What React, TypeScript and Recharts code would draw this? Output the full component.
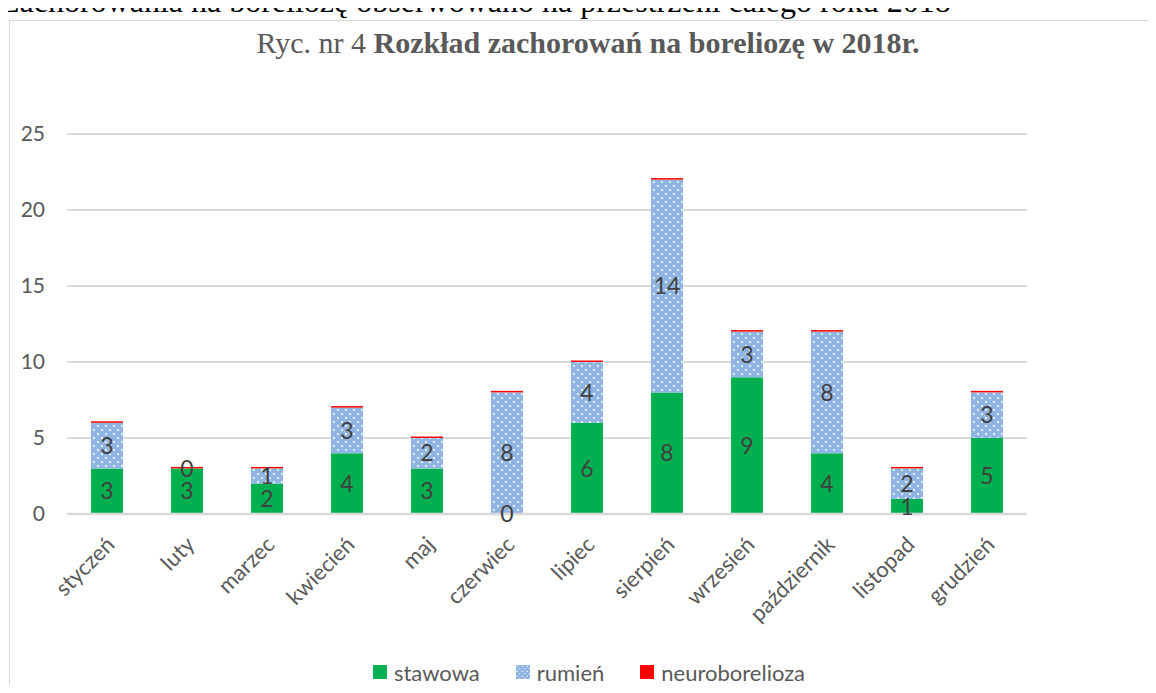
import React from 'react'
import { BarChart, Bar, XAxis, YAxis, CartesianGrid, Legend, LabelList } from 'recharts'

const months = ['styczeń', 'luty', 'marzec', 'kwiecień', 'maj', 'czerwiec', 'lipiec', 'sierpień', 'wrzesień', 'październik', 'listopad', 'grudzień']
const stawowa = [3, 3, 2, 4, 3, 0, 6, 8, 9, 4, 1, 5]
const rumien = [3, 0, 1, 3, 2, 8, 4, 14, 3, 8, 2, 3]
const neuroborelioza = [0, 0, 0, 0, 0, 0, 0, 0, 0, 0, 0, 0]
const yTicks = [0, 5, 10, 15, 20, 25]

const data = months.map((m, i) => ({
  name: m,
  stawowa: stawowa[i],
  rumien: rumien[i],
  neuroborelioza: neuroborelioza[i],
}))

const FONT = 'Lato, "Open Sans", sans-serif'
const TEXT = '#595959'
const SERIF = '"Liberation Serif", "Times New Roman", serif'

// obrócone etykiety miesięcy
const MonthTick = (props: any) => {
  const { x, y, payload } = props
  return (
    <g transform={`translate(${x + 9},${y + 24})`}>
      <text
        textAnchor="end"
        transform="rotate(-45)"
        fontFamily={FONT}
        fontSize={22}
        fill={TEXT}
      >
        {payload.value}
      </text>
    </g>
  )
}

const legendItems = [
  { label: 'stawowa', fill: '#00B050', dots: false },
  { label: 'rumień', fill: '#8DB4E2', dots: true },
  { label: 'neuroborelioza', fill: '#FF0000', dots: false },
]

const LegendContent = () => (
  <div style={{ display: 'flex', justifyContent: 'center', alignItems: 'center', height: 30, paddingLeft: 22, fontFamily: FONT, fontSize: 22, color: TEXT }}>
    {legendItems.map((it) => (
      <div key={it.label} style={{ display: 'flex', alignItems: 'center', margin: '0 18px' }}>
        <svg width={14} height={14} style={{ marginRight: 7 }}>
          <defs>
            <pattern id="dotsLegend" width={5} height={5} patternUnits="userSpaceOnUse">
              <circle cx={1.2} cy={1.2} r={0.8} fill="#fff" opacity={0.8} />
              <circle cx={3.7} cy={3.7} r={0.8} fill="#fff" opacity={0.8} />
            </pattern>
          </defs>
          <rect width={14} height={14} fill={it.fill} />
          {it.dots && <rect width={14} height={14} fill="url(#dotsLegend)" />}
        </svg>
        <span>{it.label}</span>
      </div>
    ))}
  </div>
)

const labelStyle = { fontFamily: FONT, fontSize: 23, fill: '#404040' }

export default function App() {
  return (
    <div style={{ position: 'relative', width: 1156, height: 693, margin: -8, overflow: 'hidden', background: '#fff' }}>
      <div style={{ position: 'absolute', left: 9, top: 20, width: 1170, height: 700, border: '1.5px solid #d9d9d9', boxSizing: 'border-box' }} />
      <div
        style={{
          position: 'absolute',
          left: 0,
          top: -15,
          fontFamily: SERIF,
          fontSize: 32,
          lineHeight: '32px',
          whiteSpace: 'nowrap',
          color: '#000',
        }}
      >
        Zachorowania na boreliozę obserwowano na przestrzeni całego roku 2018
      </div>
      <div
        style={{
          position: 'absolute',
          left: 0,
          top: 26,
          width: 1156,
          textAlign: 'center',
          paddingLeft: 20,
          boxSizing: 'border-box',
          fontFamily: SERIF,
          fontSize: 30,
          color: TEXT,
          whiteSpace: 'nowrap',
        }}
      >
        Ryc. nr 4 <b>Rozkład zachorowań na boreliozę w 2018r.</b>
      </div>
      <div style={{ position: 'absolute', left: 0, top: 0 }}>
        <BarChart
          width={1156}
          height={693}
          data={data}
          margin={{ top: 134, right: 129, bottom: 6, left: 0 }}
          barCategoryGap="30%"
        >
          <defs>
            <pattern id="dots" width={8} height={8} patternUnits="userSpaceOnUse">
              <rect width={8} height={8} fill="#8DB4E2" />
              <circle cx={2} cy={2} r={1.2} fill="#fff" opacity={0.75} />
              <circle cx={6} cy={6} r={1.2} fill="#fff" opacity={0.75} />
            </pattern>
          </defs>
          <CartesianGrid vertical={false} stroke="#d9d9d9" strokeWidth={2} />
          <XAxis
            dataKey="name"
            interval={0}
            height={143}
            tickLine={false}
            axisLine={{ stroke: '#d9d9d9', strokeWidth: 2.5 }}
            tick={<MonthTick />}
          />
          <YAxis
            width={67}
            domain={[0, 25]}
            ticks={yTicks}
            axisLine={false}
            tickLine={false}
            tickSize={0}
            tickMargin={22}
            tick={{ fontFamily: FONT, fontSize: 21, fill: TEXT }}
          />
          <Legend
            verticalAlign="bottom"
            height={30}
            wrapperStyle={{ left: 0, width: 1156 }}
            content={<LegendContent />}
          />
          <Bar dataKey="stawowa" stackId="a" fill="#00B050" minPointSize={0.01} isAnimationActive={false}>
            <LabelList dataKey="stawowa" position="center" style={labelStyle} />
          </Bar>
          <Bar dataKey="rumien" stackId="a" fill="url(#dots)" minPointSize={0.01} isAnimationActive={false}>
            <LabelList dataKey="rumien" position="center" style={labelStyle} />
          </Bar>
          <Bar dataKey="neuroborelioza" stackId="a" fill="#FF0000" minPointSize={1.5} isAnimationActive={false} />
        </BarChart>
      </div>
    </div>
  )
}
